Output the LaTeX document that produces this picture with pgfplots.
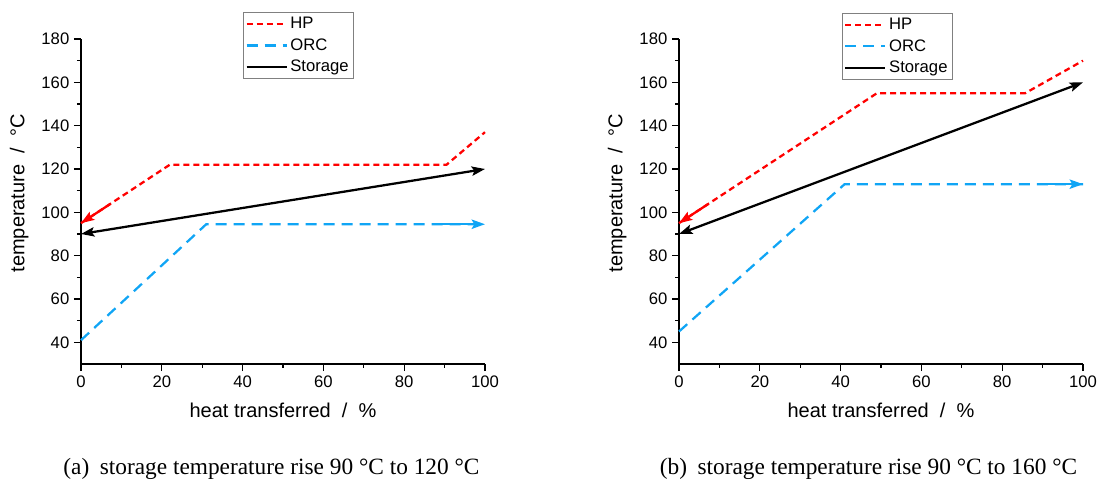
\documentclass[border=0pt]{standalone}
\usepackage{fontspec}
\setmainfont{Liberation Sans}
\newfontfamily\capfont{Liberation Serif}
\usepackage{pgfplots}
\pgfplotsset{compat=1.18}
\usetikzlibrary{arrows.meta}
\definecolor{hpred}{RGB}{255,0,0}
\definecolor{orcblue}{RGB}{16,165,245}

\pgfplotsset{
 panel/.style={
  scale only axis, width=303pt, height=243.75pt,
  xmin=0,xmax=100,ymin=30,ymax=180,
  axis x line*=bottom, axis y line*=left,
  xtick={0,20,...,100}, ytick={40,60,...,180},
  minor x tick num=1, minor y tick num=1,
  tick align=outside, major tick length=5.25pt, minor tick length=3pt,
  every tick/.style={black, line width=0.9pt},
  axis line style={black, line width=0.9pt},
  tick label style={font=\fontsize{12.5}{14}\selectfont},
  /pgf/number format/assume math mode=true,
  label style={font=\fontsize{15}{18}\selectfont},
  xlabel={heat transferred\ \ /\ \ \%},
  ylabel={temperature\ \ /\ \ °C},
  x label style={at={(axis description cs:0.5,-0.142)},anchor=center},
  y label style={at={(axis description cs:-0.153,0.525)},anchor=center},
  clip=false,
  legend style={draw=gray, line width=0.6pt, font=\fontsize{12.5}{14}\selectfont,
    anchor=north west, inner sep=1.5pt, row sep=2pt},
  legend cell align=left,
  legend image code/.code={\draw[#1,-] (0pt,0pt) -- (30pt,0pt);},
 },
 hp/.style={hpred, line width=1.7pt, dash pattern=on 4.5pt off 3pt},
 orc/.style={orcblue, line width=1.7pt, dash pattern=on 8.25pt off 5.25pt},
 sto/.style={black, line width=1.7pt},
 arr/.style={-{Stealth[length=10pt,width=7pt,inset=2pt]}},
}

\begin{document}
\begin{tikzpicture}
\useasboundingbox (0,0) rectangle (822.75pt,361.5pt);

% ---------- (a) ----------
\begin{axis}[panel, at={(60.75pt,88.5pt)}, anchor=south west,
  legend style={at={(0.401,1.083)}}]
\addplot[hp] coordinates {(0,95) (22,122) (90.5,122) (100,137)};
\addlegendentry{HP}
\addplot[orc] coordinates {(0,41) (31,94.5) (100,94.5)};
\addlegendentry{ORC}
\addplot[sto, {Stealth[length=10pt,width=7pt,inset=2pt]}-{Stealth[length=10pt,width=7pt,inset=2pt]}] coordinates {(0,90) (100,120)};
\addlegendentry{Storage}
\addplot[hpred, line width=1.7pt, arr, forget plot] coordinates {(7.2,103.8) (0,95)};
\addplot[orcblue, line width=1.7pt, arr, forget plot] coordinates {(88,94.5) (100,94.5)};
\end{axis}

% ---------- (b) ----------
\begin{axis}[panel, at={(509.25pt,88.5pt)}, anchor=south west,
  legend style={at={(0.403,1.08)}}]
\addplot[hp] coordinates {(0,95) (49,155) (85.7,155) (100,170)};
\addlegendentry{HP}
\addplot[orc] coordinates {(0,45) (41,113) (100,113)};
\addlegendentry{ORC}
\addplot[sto, {Stealth[length=10pt,width=7pt,inset=2pt]}-{Stealth[length=10pt,width=7pt,inset=2pt]}] coordinates {(0,90) (100,160)};
\addlegendentry{Storage}
\addplot[hpred, line width=1.7pt, arr, forget plot] coordinates {(7.2,103.8) (0,95)};
\addplot[orcblue, line width=1.7pt, arr, forget plot] coordinates {(90,113) (100,113)};
\end{axis}

\node[anchor=base, font=\capfont\fontsize{17.5}{20}\selectfont] at (203.6pt,5.25pt)
  {(a)\hspace{0.45em}storage temperature rise 90 °C to 120 °C};
\node[anchor=base, font=\capfont\fontsize{17.5}{20}\selectfont] at (651.4pt,5.25pt)
  {(b)\hspace{0.45em}storage temperature rise 90 °C to 160 °C};
\end{tikzpicture}
\end{document}
